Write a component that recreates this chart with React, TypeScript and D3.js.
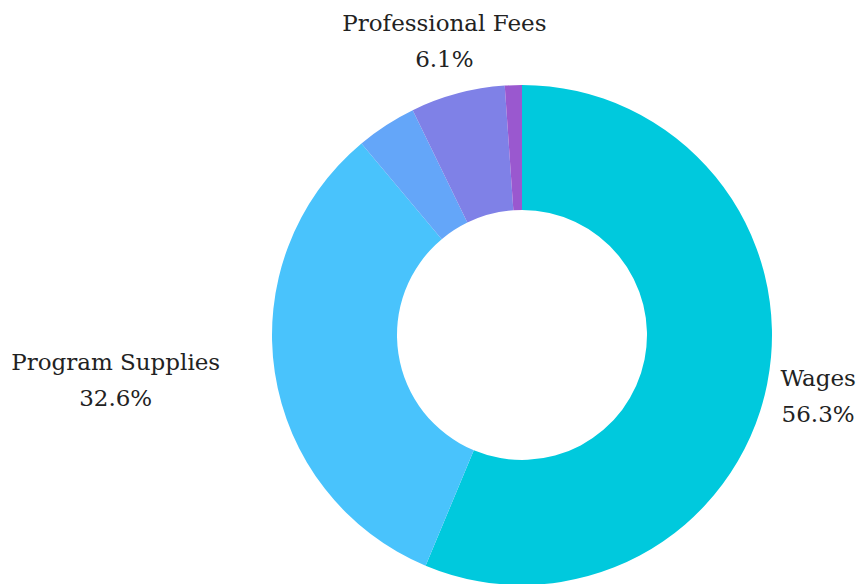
import React from "react";
import * as d3 from "d3";

const categories = ["Wages", "Program Supplies", "Other", "Professional Fees", "Miscellaneous"];
const values = [56.3, 32.6, 3.9, 6.1, 1.1];
const colors = ["#00C9DD", "#49C3FC", "#64A6F9", "#7F81E7", "#9A58CF"];
const showLabel = [true, true, false, true, false];

const W = 862;
const H = 584;
const cx = 522;
const cy = 335;
const outerR = 250;
const innerR = 125;

// layout of the outside labels (radius from centre, per label)
const labelRadius = [300, 410, 0, 305, 0];
const labelDy = [-3, -22, 0, -4, 0];
const labelDx = [2, -1, 0, 1, 0];

export default function App() {
  const pie = d3.pie<number>().sort(null).value((d) => d);
  const arcs = pie(values);
  const arc = d3.arc<d3.PieArcDatum<number>>().innerRadius(innerR).outerRadius(outerR);
  const fmt = d3.format(".1f");
  return (
    <svg width={W} height={H} style={{ position: "absolute", left: 0, top: 0 }}>
      <g transform={`translate(${cx},${cy})`}>
        {arcs.map((a, i) => (
          <path key={i} d={arc(a) || ""} fill={colors[i]} />
        ))}
        {arcs.map((a, i) => {
          if (!showLabel[i]) return null;
          const mid = (a.startAngle + a.endAngle) / 2;
          const r = labelRadius[i];
          const x = Math.sin(mid) * r + labelDx[i];
          const y = -Math.cos(mid) * r + labelDy[i];
          return (
            <text
              key={"l" + i}
              x={x}
              y={y}
              textAnchor="middle"
              fontFamily="'DejaVu Serif', serif"
              fontSize={23}
              fill="#222"
            >
              <tspan x={x} dy={-5}>{categories[i]}</tspan>
              <tspan x={x} dy={36}>{fmt(values[i])}%</tspan>
            </text>
          );
        })}
      </g>
    </svg>
  );
}
